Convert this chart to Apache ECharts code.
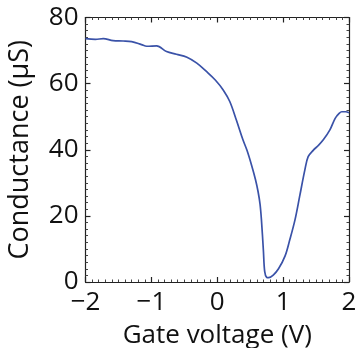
<!DOCTYPE html>
<html>
<head>
    <meta charset="UTF-8">
    <title>Conductance vs gate voltage</title>
    <script src="https://cdn.jsdelivr.net/npm/echarts@6/dist/echarts.min.js"></script>
    <style>
        html, body { margin: 0; padding: 0; background: #fff; }
        #chart { width: 356px; height: 348px; }
    </style>
</head>
<body>
<div id="chart"></div>
<script>
    // data
    var voltage = [-2.00, -1.85, -1.73, -1.58, -1.43, -1.30, -1.15, -1.07, -0.92, -0.77,
        -0.62, -0.46, -0.31, -0.16, -0.03, 0.09, 0.19, 0.29, 0.39, 0.45,
        0.52, 0.58, 0.62, 0.65, 0.67, 0.70, 0.72, 0.75, 0.78, 0.85, 0.93,
        1.03, 1.10, 1.18, 1.25, 1.33, 1.38, 1.46, 1.53, 1.61, 1.71,
        1.79, 1.85, 1.89, 1.95, 2.00];
    var conductance = [73.6, 73.4, 73.6, 73.0, 72.9, 72.7, 71.8, 71.3, 71.4, 69.7,
        68.9, 68.0, 66.2, 63.6, 61.1, 58.1, 54.6, 49.0, 43.0, 39.9,
        35.4, 31.0, 27.3, 23.5, 19.0, 9.7, 3.2, 1.4, 1.3, 2.1, 4.0,
        7.9, 12.7, 18.8, 25.8, 33.9, 37.9, 39.9, 41.2, 43.0, 46.0,
        49.5, 51.0, 51.5, 51.5, 51.2];
    var xTicks = [-2, -1, 0, 1, 2];
    var yTicks = [0, 20, 40, 60, 80];

    var FONT = 'Open Sans';
    var points = voltage.map(function (v, i) { return [v, conductance[i]]; });

    function minus(v) { return String(v).replace('-', '\u2212'); }

    var lineStyle = { color: '#222', width: 1.2 };

    function xAxis(pos, show) {
        return {
            type: 'value', position: pos, min: xTicks[0], max: xTicks[xTicks.length - 1], interval: 1,
            name: show ? 'Gate voltage (V)' : '', nameLocation: 'middle', nameGap: 41,
            nameTextStyle: { fontFamily: FONT, fontSize: 26, color: '#111' },
            axisLine: { show: true, onZero: false, lineStyle: lineStyle },
            axisTick: { show: true, inside: true, length: 5, lineStyle: lineStyle },
            minorTick: { show: true, splitNumber: 10, length: 2.5, lineStyle: { color: '#444', width: 1 } },
            axisLabel: { show: show, margin: 8, fontFamily: FONT, fontSize: 26, color: '#111', formatter: minus },
            splitLine: { show: false }
        };
    }

    function yAxis(pos, show) {
        return {
            type: 'value', position: pos, min: yTicks[0], max: yTicks[yTicks.length - 1], interval: 20,
            name: show ? 'Conductance (\u03bcS)' : '', nameLocation: 'middle', nameGap: 52,
            nameTextStyle: { fontFamily: FONT, fontSize: 27, color: '#111' },
            axisLine: { show: true, onZero: false, lineStyle: lineStyle },
            axisTick: { show: true, inside: true, length: 5, lineStyle: lineStyle },
            minorTick: { show: true, splitNumber: 10, length: 2.5, lineStyle: { color: '#444', width: 1 } },
            axisLabel: { show: show, margin: 7, fontFamily: FONT, fontSize: 26, color: '#111' },
            splitLine: { show: false }
        };
    }

    var chart = echarts.init(document.getElementById('chart'));
    chart.setOption({
        animation: false,
        grid: { left: 85.5, right: 7, top: 17.5, bottom: 66, outerBoundsMode: 'none', containLabel: false },
        xAxis: [xAxis('bottom', true), xAxis('top', false)],
        yAxis: [yAxis('left', true), yAxis('right', false)],
        series: [{
            type: 'line',
            data: points,
            showSymbol: false,
            smooth: 0.35,
            lineStyle: { color: '#3a52a8', width: 1.7 }
        }]
    });
</script>
</body>
</html>
